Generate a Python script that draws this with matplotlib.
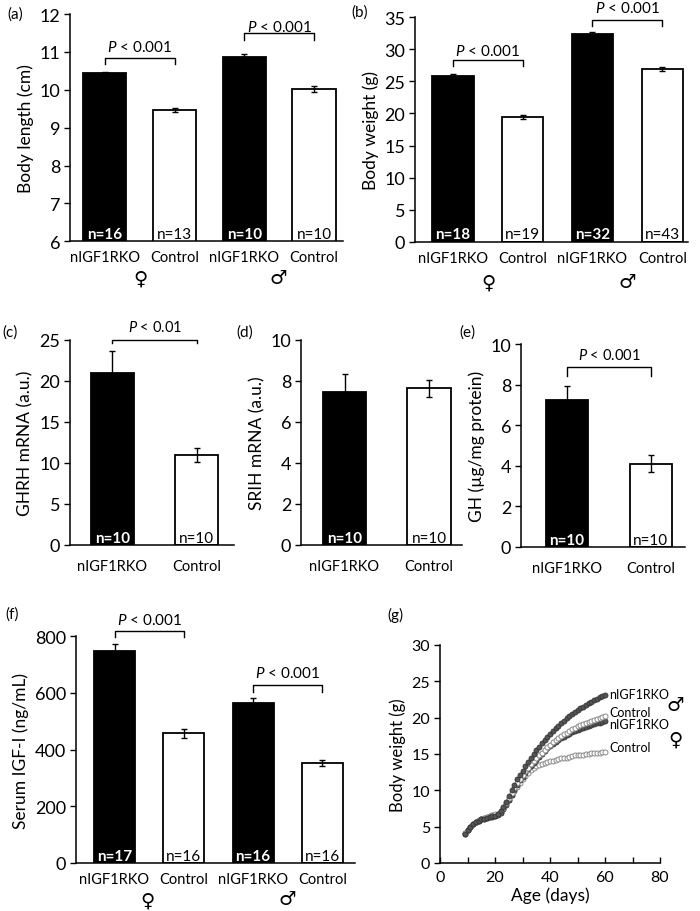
import matplotlib
matplotlib.use("Agg")
import matplotlib.pyplot as plt
from matplotlib.ticker import MultipleLocator

plt.rcParams['font.family'] = ['Lato', 'DejaVu Sans']
plt.rcParams['mathtext.fontset'] = 'custom'
plt.rcParams['mathtext.rm'] = 'Lato'
plt.rcParams['mathtext.it'] = 'Lato:italic'

W, H = 700, 912

# ---- data ----
groups4 = ["nIGF1RKO", "Control", "nIGF1RKO", "Control"]
groups2 = ["nIGF1RKO", "Control"]

len_val = [10.44, 9.46, 10.87, 10.02]
len_err = [0.04, 0.05, 0.07, 0.07]
len_n = ["n=16", "n=13", "n=10", "n=10"]

bw_val = [25.9, 19.45, 32.4, 26.95]
bw_err = [0.2, 0.3, 0.25, 0.3]
bw_n = ["n=18", "n=19", "n=32", "n=43"]

ghrh_val = [21.0, 11.0]
ghrh_err = [2.7, 0.85]
srih_val = [7.45, 7.65]
srih_err = [0.88, 0.42]
gh_val = [7.22, 4.1]
gh_err = [0.7, 0.42]
n10 = ["n=10", "n=10"]

igf_val = [747, 458, 565, 353]
igf_err = [26, 16, 16, 12]
igf_n = ["n=17", "n=16", "n=16", "n=16"]

age = list(range(9, 61))
ko_male = [4.0, 4.5, 5.0, 5.3, 5.6, 5.8, 6.0, 6.1, 6.2, 6.3, 6.4, 6.5, 6.7, 7.1,
           7.7, 8.4, 9.2, 10.0, 10.8, 11.5, 12.1, 12.7, 13.3, 13.9, 14.5, 15.0,
           15.5, 16.0, 16.5, 16.9, 17.4, 17.8, 18.2, 18.6, 18.9, 19.3, 19.6,
           19.9, 20.2, 20.5, 20.8, 21.0, 21.3, 21.5, 21.8, 22.0, 22.2, 22.4,
           22.6, 22.8, 23.0, 23.1]
ctrl_male = [4.1, 4.6, 5.0, 5.4, 5.7, 5.9, 6.1, 6.2, 6.3, 6.5, 6.6, 6.7, 6.8, 7.1,
             7.6, 8.2, 8.9, 9.6, 10.3, 11.0, 11.6, 12.1, 12.6, 13.1, 13.6, 14.0,
             14.4, 14.8, 15.2, 15.6, 16.0, 16.3, 16.6, 16.9, 17.2, 17.5, 17.7,
             17.9, 18.2, 18.4, 18.6, 18.8, 19.0, 19.1, 19.3, 19.4, 19.6, 19.7,
             19.8, 20.0, 20.1, 20.2]
ko_fem = [4.0, 4.5, 4.9, 5.3, 5.6, 5.8, 6.0, 6.1, 6.2, 6.3, 6.3, 6.4, 6.6, 6.9,
          7.4, 8.0, 8.7, 9.4, 10.1, 10.8, 11.4, 11.9, 12.4, 12.9, 13.4, 13.8,
          14.2, 14.6, 15.0, 15.4, 15.8, 16.1, 16.4, 16.7, 16.9, 17.2, 17.4,
          17.6, 17.8, 18.0, 18.2, 18.3, 18.5, 18.6, 18.7, 18.9, 19.0, 19.1,
          19.2, 19.3, 19.4, 19.5]
ctrl_fem = [4.1, 4.6, 5.0, 5.4, 5.7, 5.9, 6.1, 6.2, 6.3, 6.5, 6.6, 6.6, 6.7, 7.0,
            7.5, 8.1, 8.7, 9.3, 9.9, 10.5, 11.0, 11.5, 12.0, 12.4, 12.8, 13.1,
            13.3, 13.5, 13.6, 13.8, 13.9, 14.0, 14.1, 14.2, 14.3, 14.4, 14.5,
            14.5, 14.6, 14.7, 14.8, 14.8, 14.9, 14.9, 15.0, 15.0, 15.1, 15.1,
            15.2, 15.2, 15.3, 15.3]

fig = plt.figure(figsize=(W / 100, H / 100), dpi=100)


def axes_px(l, t, r, b):
    return fig.add_axes([l / W, 1 - b / H, (r - l) / W, (b - t) / H])


def ftext(x, y, s, **kw):
    fig.text(x / W, 1 - y / H, s, **kw)


def bar_panel(ax, vals, errs, ns, labels, width, xlim, ylim, step, ylabel,
              tick_fs=13, nfs=11, lab_pad=6.5, lab_fs=10.5):
    x = list(range(len(vals)))
    colors = ["black" if i % 2 == 0 else "white" for i in x]
    ax.bar(x, vals, width=width, color=colors, edgecolor="black", linewidth=1.3,
           yerr=errs, capsize=2.5, error_kw=dict(elinewidth=1, capthick=1, ecolor="black"))
    for i, s in enumerate(ns):
        if i % 2 == 0:
            ax.text(i, 0.033, s, color="white", fontweight="bold", fontsize=nfs,
                    ha="center", va="center", transform=ax.get_xaxis_transform())
        else:
            ax.text(i, 0.033, s, color="black", fontsize=nfs,
                    ha="center", va="center", transform=ax.get_xaxis_transform())
    ax.set_xlim(*xlim)
    ax.set_ylim(*ylim)
    ax.yaxis.set_major_locator(MultipleLocator(step))
    ax.set_xticks(x)
    ax.set_xticklabels(labels, fontsize=lab_fs)
    ax.tick_params(axis="x", length=0, pad=lab_pad)
    ax.tick_params(axis="y", labelsize=tick_fs, length=4, width=1, pad=3)
    for sp in ["top", "right"]:
        ax.spines[sp].set_visible(False)
    for sp in ["left", "bottom"]:
        ax.spines[sp].set_linewidth(1.1)
    ax.set_ylabel(ylabel, fontsize=12.5, labelpad=4)


def bracket(ax, x0, x1, ylo, yhi, ytext, text, fs=11):
    ax.plot([x0, x0, x1, x1], [ylo, yhi, yhi, ylo], color="black", lw=1, clip_on=False)
    ax.text((x0 + x1) / 2, ytext, text, ha="center", va="center", fontsize=fs)


P001 = "$P$ < 0.001"

# (a)
ax = axes_px(70, 15, 343, 242.3)
bar_panel(ax, len_val, len_err, len_n, groups4, 0.62, (-0.5, 3.415), (6, 12), 1,
          "Body length (cm)")
bracket(ax, 0, 1, 10.68, 10.85, 11.15, P001)
bracket(ax, 2, 3, 11.32, 11.51, 11.68, P001)
ftext(15, 15, "(a)", fontsize=11, ha="center", va="center")
ftext(140, 279, "♀", fontsize=14, ha="center", va="center")
ftext(278, 278, "♂", fontsize=14, ha="center", va="center")

# (b)
ax = axes_px(415, 18.3, 688, 242.7)
bar_panel(ax, bw_val, bw_err, bw_n, groups4, 0.59, (-0.545, 3.37), (0, 35), 5,
          "Body weight (g)")
bracket(ax, 0, 1, 27.45, 28.3, 29.75, P001)
bracket(ax, 2, 3, 33.6, 34.6, 36.6, P001)
ftext(360, 13, "(b)", fontsize=11, ha="center", va="center")
ftext(488, 283, "♀", fontsize=14, ha="center", va="center")
ftext(627, 282, "♂", fontsize=14, ha="center", va="center")

# (c)
ax = axes_px(70, 341, 234, 546)
bar_panel(ax, ghrh_val, ghrh_err, n10, groups2, 0.51, (-0.503, 1.44), (0, 25), 5,
          "GHRH mRNA (a.u.)", lab_pad=10)
bracket(ax, 0, 1, 24.6, 25.0, 26.7, "$P$ < 0.01", fs=10.5)
ftext(10, 333, "(c)", fontsize=11, ha="center", va="center")

# (d)
ax = axes_px(301, 341, 462, 546)
bar_panel(ax, srih_val, srih_err, n10, groups2, 0.51, (-0.515, 1.39), (0, 10), 2,
          "SRIH mRNA (a.u.)", lab_pad=10)
ftext(245, 333, "(d)", fontsize=11, ha="center", va="center")

# (e)
ax = axes_px(521, 345, 685, 547.7)
bar_panel(ax, gh_val, gh_err, n10, groups2, 0.5, (-0.55, 1.41), (0, 10), 2,
          "GH (µg/mg protein)", lab_pad=10)
bracket(ax, 0, 1, 8.4, 8.87, 9.5, P001, fs=10.5)
ftext(467, 333, "(e)", fontsize=11, ha="center", va="center")

# (f)
ax = axes_px(76, 637.3, 355, 864)
bar_panel(ax, igf_val, igf_err, igf_n, groups4, 0.59, (-0.556, 3.47), (0, 800), 200,
          "Serum IGF-I (ng/mL)")
bracket(ax, 0, 1, 797, 820, 861, P001)
bracket(ax, 2, 3, 605, 628, 674, P001)
ftext(12, 615, "(f)", fontsize=11, ha="center", va="center")
ftext(147, 901, "♀", fontsize=14, ha="center", va="center")
ftext(287, 900, "♂", fontsize=14, ha="center", va="center")

# (g)
ax = axes_px(440, 646, 660, 864)
filled = dict(marker="o", ms=3.6, ls="none", mfc="#555555", mec="#333333", mew=0.6)
hollow = dict(marker="o", ms=3.6, ls="none", mfc="white", mec="#8a8a8a", mew=0.7)
ax.plot(age, ctrl_fem, **hollow, clip_on=False)
ax.plot(age, ko_fem, **filled, clip_on=False)
ax.plot(age, ctrl_male, **hollow, clip_on=False)
ax.plot(age, ko_male, **filled, clip_on=False)
ax.set_xlim(0, 80)
ax.set_ylim(0, 30)
ax.xaxis.set_major_locator(MultipleLocator(20))
ax.xaxis.set_minor_locator(MultipleLocator(10))
ax.yaxis.set_major_locator(MultipleLocator(5))
ax.tick_params(axis="x", which="both", direction="in", length=4, width=1, labelsize=11.5, pad=5)
ax.tick_params(axis="y", length=4, width=1, labelsize=11.5, pad=3)
for sp in ["top", "right"]:
    ax.spines[sp].set_visible(False)
for sp in ["left", "bottom"]:
    ax.spines[sp].set_linewidth(1.1)
ax.set_xlabel("Age (days)", fontsize=12.5, labelpad=2)
ax.set_ylabel("Body weight (g)", fontsize=12, labelpad=4)
for yy, s in [(23.2, "nIGF1RKO"), (20.8, "Control"), (19.1, "nIGF1RKO"), (15.9, "Control")]:
    ax.text(61.6, yy, s, fontsize=9, ha="left", va="center", clip_on=False)
ax.text(85.5, 21.8, "♂", fontsize=14, ha="center", va="center", clip_on=False)
ax.text(85.5, 17.1, "♀", fontsize=14, ha="center", va="center", clip_on=False)
ftext(395, 615, "(g)", fontsize=11, ha="center", va="center")

fig.savefig("out.png", dpi=100)
